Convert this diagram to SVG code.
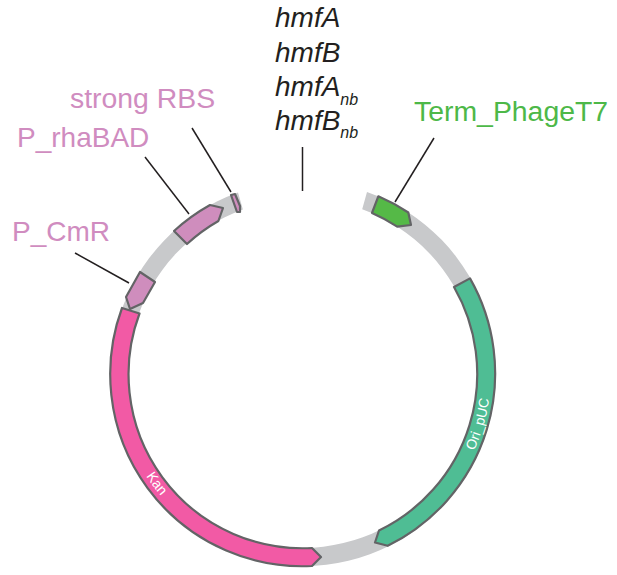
<svg xmlns="http://www.w3.org/2000/svg" width="617" height="575" viewBox="0 0 617 575">
<style>
text{font-family:"Liberation Sans",Arial,sans-serif}
.lbl{font-size:28px}
.wide{font-size:28.400px}
.it{font-style:italic;fill:#231f20}
.sub{font-size:16px}
.pink{fill:#d08cc0}
.seg{stroke:#636466;stroke-width:2.2;stroke-linejoin:round}
.lead{stroke:#231f20;stroke-width:1.5;fill:none}
.in{fill:#fff;font-size:14px}
</style>
<defs>
<path id="kanPath" d="M146,476 A188 188 0 0 0 203,532"/>
<path id="oriPath" d="M474,451 A188 188 0 0 0 491,373"/>
</defs>
<rect width="617" height="575" fill="#fff"/>
<g id="backbone"><path d="M367,192 A192.500 192.500 0 1 1 238,192.500 L242.900,209.500 A174.500 174.500 0 1 0 362.200,209.300 Z" fill="#c8c9cb"/></g>
<g id="connectors">
<path class="lead" d="M192,128 L231,192"/>
<path class="lead" d="M145,157 L189,214"/>
<path class="lead" d="M75,253 L129,283"/>
<path class="lead" d="M434,138 L395,202"/>
<path class="lead" d="M302.500,147 V191"/>
</g>
<g id="term"><path class="seg" fill="#55b947" d="M378.300,196.300 A192 192 0 0 1 408.300,212.500 L411,225 L397.200,226.600 A174 174 0 0 0 372,213 Z"/>
<text class="wide" x="414" y="121" fill="#4db848">Term_PhageT7</text></g>
<g id="ori"><path class="seg" fill="#4fbd94" d="M470,278.400 A192 192 0 0 1 387.700,545.800 L375,542.500 L379,530.500 A174 174 0 0 0 454,287 Z"/>
<text class="in"><textPath href="#oriPath">Ori_pUC</textPath></text></g>
<g id="kan"><path class="seg" fill="#f25aa5" d="M122,308 A192 192 0 0 0 312,566 L321,557 L312,548 A174 174 0 0 1 139.500,313.500 Z"/>
<text class="in"><textPath href="#kanPath">Kan</textPath></text></g>
<g id="pcmr"><path class="seg" fill="#cf8dbd" d="M140,272 L155,282 L143,303 L130,309 L126,297 Z"/>
<text class="lbl pink" x="12" y="241">P_CmR</text></g>
<g id="prhabad"><path class="seg" fill="#cf8dbd" d="M174,231 A192 192 0 0 1 210,205 L223,208 L218.400,221 A174 174 0 0 0 187,244 Z"/>
<text class="lbl pink" x="17" y="147">P_rhaBAD</text></g>
<g id="rbs"><path class="seg" fill="#cf8dbd" d="M231,195 L235,194 L240,206 L240,212 L237,212 Z"/>
<text class="wide pink" x="70" y="108">strong RBS</text></g>
<g id="genes">
<text class="lbl it" x="275" y="27">hmfA</text>
<text class="lbl it" x="275" y="62">hmfB</text>
<text class="lbl it" x="275" y="96">hmfA<tspan class="sub" dy="9">nb</tspan></text>
<text class="lbl it" x="275" y="130">hmfB<tspan class="sub" dy="8">nb</tspan></text>
</g>
</svg>
